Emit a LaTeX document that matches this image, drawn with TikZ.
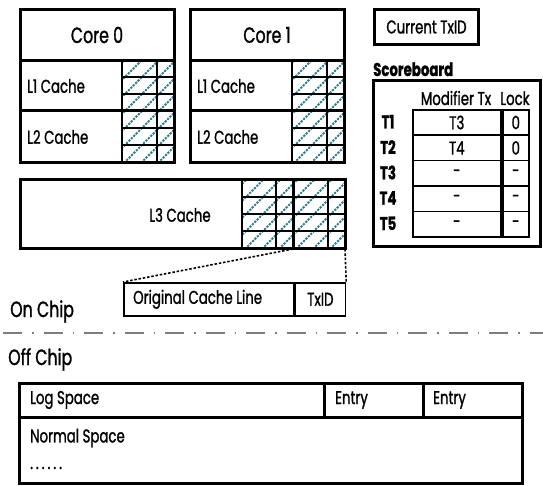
\documentclass[tikz,border=0pt]{standalone}
\usepackage{fontspec}
\setmainfont{Poppins}[FakeStretch=0.72, FakeBold=1.2]
\definecolor{hatchteal}{RGB}{45,125,140}
\definecolor{chipgray}{RGB}{125,125,125}
\tikzset{
  thickbox/.style={draw, line width=3pt},
  thinbox/.style={draw, line width=1.6pt, inner sep=0pt},
  gridline/.style={line width=2pt},
  hatchline/.style={hatchteal, line width=2pt, dash pattern=on 2.2pt off 1.2pt},
  dotconn/.style={line width=1.6pt, dash pattern=on 2.5pt off 1.8pt},
  smalltext/.style={inner sep=0pt, font=\fontsize{18.5}{20}\selectfont},
  boldtext/.style={inner sep=0pt, font=\fontsize{18.5}{20}\selectfont\bfseries},
  bigtext/.style={inner sep=0pt, font=\fontsize{22}{24}\selectfont},
}
\begin{document}
\begin{tikzpicture}[x=1pt, y=-1pt]
    \useasboundingbox (0,0) rectangle (543,486);

    % Cores with L1 and L2 caches
    \foreach \c in {0,1} {
      \begin{scope}[xshift=170*\c pt]
        \begin{scope}
          \clip (122,61) rectangle (174,163);
          \foreach \k in {0,...,9} \draw[hatchline] (5+17*\k,163) -- ++(102,-102);
        \end{scope}
        \draw[gridline] (122,61) -- (122,163) (157,61) -- (157,163);
        \foreach \y in {77,94,128,145} \draw[gridline] (122,\y) -- (174,\y);
        \draw[thickbox] (20,10) rectangle (174,163);
        \draw[thickbox] (20,61) -- (174,61) (20,111) -- (174,111);
        \node[bigtext] (core\c) at (97,35) {Core \c};
        \node[smalltext, anchor=west] (lone\c) at (27,86) {L1 Cache};
        \node[smalltext, anchor=west] (ltwo\c) at (27,137) {L2 Cache};
      \end{scope}
    }

    % L3 cache
    \begin{scope}
      \clip (242,180) rectangle (345,249);
      \foreach \k in {0,...,11} \draw[hatchline] (160+17*\k,249) -- ++(69,-69);
    \end{scope}
    \foreach \x in {242,276,328} \draw[gridline] (\x,180) -- (\x,249);
    \foreach \y in {197,214,231} \draw[gridline] (242,\y) -- (345,\y);
    \draw[thickbox] (20,180) rectangle (345,249);
    \draw[thickbox] (293,180) -- (293,249);
    \node[smalltext] (lthree) at (180,215) {L3 Cache};
    \coordinate (lineL) at (293,249);
    \coordinate (lineR) at (345,249);

    % Expanded cache line
    \node[thinbox, minimum width=170pt, minimum height=33pt, anchor=north west] (orig) at (123,282) {};
    \node[thinbox, smalltext, minimum width=50pt, minimum height=33pt, anchor=north west] (txid) at (orig.north east) {TxID};
    \node[smalltext, anchor=west] (origtext) at ([xshift=10pt]orig.west) {Original Cache Line};
    \draw[dotconn] (lineL) -- (orig.north west);
    \draw[dotconn] (lineR) -- (txid.north east);

    % Chip boundary
    \node[bigtext, anchor=base west] (onchip) at (10,317) {On Chip};
    \draw[chipgray, line width=2pt, dash pattern=on 19pt off 10pt on 1.5pt off 10pt] (3,333) -- (543,333);
    \node[bigtext, anchor=base west] (offchip) at (8,365) {Off Chip};

    % Memory
    \draw[thickbox] (19,383) rectangle (522,483);
    \draw[thickbox] (19,417) -- (522,417) (324,383) -- (324,417) (423,383) -- (423,417);
    \node[smalltext, anchor=west] (logspace) at (30,400) {Log Space};
    \node[smalltext, anchor=west] (entrya) at (335,400) {Entry};
    \node[smalltext, anchor=west] (entryb) at (433,400) {Entry};
    \node[smalltext, anchor=west] (normspace) at (30,438) {Normal Space};
    \node[smalltext, anchor=west] (normdots) at (30,468) {.\kern3pt.\kern3pt.\kern3pt.\kern3pt.\kern3pt.};

    % Current TxID register
    \node[thickbox, smalltext, minimum width=104pt, minimum height=35pt, anchor=north west] (curtx) at (373,8) {Current TxID};

    % Scoreboard
    \node[boldtext, anchor=base west] (sbtitle) at (373,76) {Scoreboard};
    \draw[thickbox] (373,81) rectangle (540,247);
    \node[smalltext, anchor=base] (modhead) at (456,105) {Modifier Tx};
    \node[smalltext, anchor=base] (lockhead) at (515,105) {Lock};
    \foreach \t/\m/\l [count=\i] in {T1/T3/0, T2/T4/0, T3/-/-, T4/-/-, T5/-/-} {
      \node[thinbox, smalltext, minimum width=88pt, minimum height=25.4pt, anchor=north west] (mod\i) at (412,{109+25.4*(\i-1)}) {\m};
      \node[thinbox, smalltext, minimum width=26pt, minimum height=25.4pt, anchor=north west] (lock\i) at (502,{109+25.4*(\i-1)}) {\l};
      \node[boldtext] (row\i) at (388,{121.7+25.4*(\i-1)}) {\t};
    }

\end{tikzpicture}
\end{document}
